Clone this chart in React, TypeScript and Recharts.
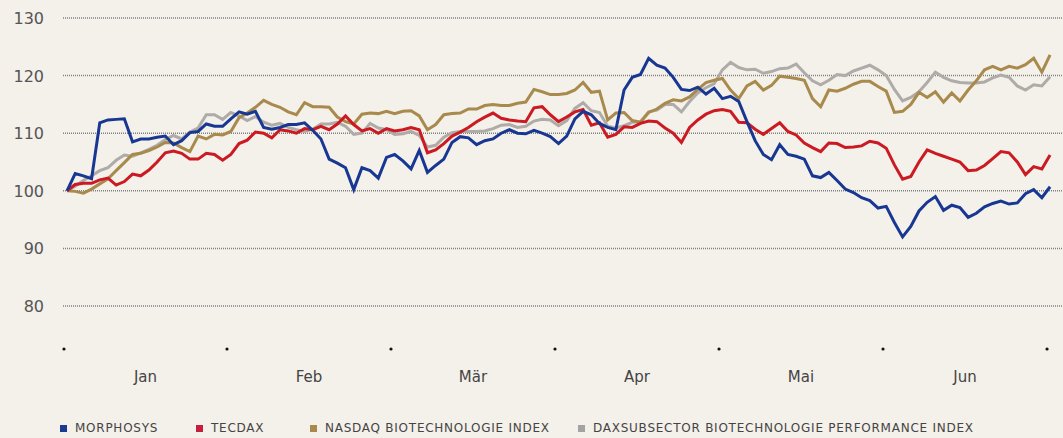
import { LineChart, Line, XAxis, YAxis, CartesianGrid } from "recharts";

const MORPHOSYS = [
  100, 103, 102.6, 102.1, 111.8, 112.3, 112.4, 112.5, 108.5, 109, 109, 109.3, 109.5, 108, 108.7, 110.1, 110.3, 111.6, 111.2, 111.2,
  112.5, 113.7, 113.3, 113.8, 111, 110.7, 111, 111.5, 111.5, 111.8, 110.5, 109, 105.5, 104.8, 104, 100.2, 104, 103.5, 102.2, 105.8,
  106.3, 105.2, 103.8, 107, 103.2, 104.4, 105.5, 108.4, 109.4, 109.2, 108, 108.7, 109, 110, 110.6, 110, 109.9, 110.5, 110, 109.4,
  108.2, 109.5, 112.5, 113.8, 113.2, 111.7, 111, 110.6, 117.5, 119.7, 120.2, 123, 121.8, 121.3, 119.7, 117.6, 117.4, 118, 116.8, 117.8,
  116, 116.4, 115.5, 112, 108.7, 106.3, 105.4, 108, 106.3, 106, 105.5, 102.6, 102.3, 103.2, 101.8, 100.3, 99.7, 98.8, 98.3, 97,
  97.3, 94.5, 92, 93.8, 96.5, 98, 99, 96.6, 97.5, 97.1, 95.4, 96.1, 97.2, 97.8, 98.2, 97.7, 97.9, 99.5, 100.2, 98.8,
  100.7,
];

const TECDAX = [
  100, 101.1, 101.3, 101.3, 101.9, 102.2, 101, 101.6, 102.9, 102.6, 103.6, 105, 106.6, 106.9, 106.5, 105.5, 105.5, 106.5, 106.3, 105.3,
  106.3, 108.2, 108.8, 110.2, 110, 109.2, 110.6, 110.4, 110, 110.8, 110.6, 111.2, 110.6, 111.6, 113, 111.5, 110.4, 110.8, 110, 110.8,
  110.4, 110.6, 111, 110.6, 106.6, 107.1, 108.2, 109.5, 110.2, 111, 112, 112.8, 113.5, 112.6, 112.3, 112.1, 112, 114.4, 114.6, 113.2,
  112, 112.8, 113.7, 114.1, 111.4, 111.8, 109.3, 109.8, 111.1, 111, 111.7, 112.1, 112, 110.9, 110, 108.4, 111, 112.3, 113.3, 113.9,
  114.1, 113.8, 111.9, 111.8, 110.7, 109.8, 110.8, 111.8, 110.3, 109.7, 108.3, 107.5, 106.8, 108.3, 108.2, 107.5, 107.6, 107.8, 108.6, 108.3,
  107.4, 104.5, 102, 102.5, 105, 107.1, 106.5, 106, 105.5, 105, 103.5, 103.6, 104.4, 105.6, 106.8, 106.6, 105, 102.8, 104.2, 103.8,
  106.2,
];

const NASDAQ_BIOTECH = [
  100, 99.9, 99.6, 100.3, 101.2, 102.1, 103.5, 104.9, 106.3, 106.5, 107, 107.6, 108.4, 108.3, 107.5, 106.8, 109.5, 109, 109.8, 109.7,
  110.3, 112.7, 113.5, 114.5, 115.7, 115, 114.5, 113.7, 113.2, 115.3, 114.6, 114.6, 114.5, 112.8, 112, 111.6, 113.3, 113.5, 113.4, 113.8,
  113.4, 113.8, 113.9, 113, 110.6, 111.5, 113.2, 113.4, 113.5, 114.2, 114.2, 114.8, 115, 114.8, 114.8, 115.2, 115.4, 117.6, 117.2, 116.7,
  116.7, 116.9, 117.5, 118.8, 117.1, 117.3, 112.3, 113.5, 113.6, 112.2, 111.9, 113.6, 114.2, 115.2, 115.8, 115.6, 116.3, 117.6, 118.8, 119.2,
  119.5, 117.5, 116, 118.2, 119, 117.5, 118.3, 119.9, 119.7, 119.5, 119.2, 116, 114.6, 117.5, 117.3, 117.8, 118.5, 119, 119, 118.1,
  117.3, 113.6, 113.8, 115, 117.1, 116.2, 117.2, 115.4, 117, 115.6, 117.5, 119.1, 121, 121.6, 121, 121.6, 121.3, 121.9, 123, 120.6,
  123.6,
];

const DAX_BIOTECH = [
  100, 100.8, 101.8, 102.6, 103.5, 104, 105.3, 106.2, 106, 106.6, 107.2, 107.9, 108.9, 109.6, 109, 110.2, 110.9, 113.2, 113.2, 112.4,
  113.6, 113, 112.2, 112.9, 111.9, 111.4, 111.7, 111, 110.6, 110.3, 110.7, 111.6, 111.6, 111.9, 111.2, 109.8, 110, 111.7, 110.9, 110.6,
  109.8, 109.9, 110.3, 109.6, 107.6, 107.9, 109.3, 110.1, 110.3, 110.3, 110.3, 110.4, 110.8, 111.4, 111.5, 111, 111.2, 112.1, 112.4, 112.3,
  111.3, 112.2, 114.3, 115.3, 113.9, 113.6, 111.2, 110.9, 111.3, 111.9, 112, 113.7, 114, 115, 115, 113.7, 115.5, 117, 117.9, 118.6,
  121, 122.3, 121.4, 121, 121.1, 120.4, 120.7, 121.2, 121.3, 122, 120.5, 119.1, 118.4, 119.2, 120.2, 120, 120.8, 121.3, 121.8, 121,
  120, 117.6, 115.6, 116.2, 117.2, 118.8, 120.6, 119.7, 119.1, 118.8, 118.7, 118.7, 118.9, 119.6, 120.1, 119.7, 118.2, 117.5, 118.4, 118.2,
  119.8,
];

const MONTHS = ["Jan", "Feb", "Mär", "Apr", "Mai", "Jun"];
// month boundaries in trading-day index units
const MONTH_BOUNDS = [-0.37, 19.53, 39.55, 59.57, 79.59, 99.61, 119.63];
const Y_TICKS = [80, 90, 100, 110, 120, 130];

const SERIES = [
  { key: "dax", name: "DAXSUBSECTOR BIOTECHNOLOGIE PERFORMANCE INDEX", color: "#aeaba8", legend: "#a3a3a3", values: DAX_BIOTECH },
  { key: "nasdaq", name: "NASDAQ BIOTECHNOLOGIE INDEX", color: "#a88a4c", legend: "#a88a4c", values: NASDAQ_BIOTECH },
  { key: "tecdax", name: "TECDAX", color: "#cc1a22", legend: "#c41f3c", values: TECDAX },
  { key: "morphosys", name: "MORPHOSYS", color: "#173792", legend: "#1b3a94", values: MORPHOSYS },
];

const data = MORPHOSYS.map((_, i) => {
  const row: Record<string, number> = { i };
  SERIES.forEach((s) => (row[s.key] = s.values[i]));
  return row;
});

const xTicks: number[] = [];
MONTH_BOUNDS.forEach((b, k) => {
  xTicks.push(b);
  if (k < MONTH_BOUNDS.length - 1) xTicks.push((b + MONTH_BOUNDS[k + 1]) / 2);
});

const FONT = "'DejaVu Sans', sans-serif";

function MonthTick(props: any) {
  const { x, index } = props;
  if (index % 2 === 0) return <circle cx={x} cy={349} r={1.6} fill="#111" />;
  return (
    <text x={x} y={382} textAnchor="middle" fontSize={15} fontFamily={FONT} fill="#444">
      {MONTHS[(index - 1) / 2]}
    </text>
  );
}

function ValueTick(props: any) {
  const { y, payload } = props;
  return (
    <text x={44} y={y + 6} textAnchor="end" fontSize={16} fontFamily={FONT} fill="#555">
      {payload.value}
    </text>
  );
}

const LEGEND_POS = [60, 196, 310, 578];
const LEGEND_ORDER = ["morphosys", "tecdax", "nasdaq", "dax"];

export default function App() {
  return (
    <div style={{ position: "fixed", left: 0, top: 0, width: 1063, height: 438, background: "#f4f0ea" }}>
      <LineChart width={1063} height={438} data={data} margin={{ top: 18, right: 0, left: 0, bottom: 0 }}>
        <CartesianGrid horizontal vertical={false} stroke="#808080" strokeDasharray="1 1" strokeWidth={1.5} />
        <XAxis
          type="number"
          dataKey="i"
          domain={[-0.488, 121.58]}
          ticks={xTicks}
          interval={0}
          axisLine={false}
          tickLine={false}
          height={132}
          tick={<MonthTick />}
        />
        <YAxis
          domain={[80, 130]}
          ticks={Y_TICKS}
          width={63}
          axisLine={false}
          tickLine={false}
          tick={<ValueTick />}
        />
        {SERIES.map((s) => (
          <Line
            key={s.key}
            dataKey={s.key}
            name={s.name}
            stroke={s.color}
            strokeWidth={3}
            dot={false}
            type="linear"
            isAnimationActive={false}
          />
        ))}
      </LineChart>
      <div style={{ position: "absolute", left: 0, top: 421, width: 1063, height: 16, fontFamily: FONT }}>
        {LEGEND_ORDER.map((k, n) => {
          const s = SERIES.find((x) => x.key === k)!;
          return (
            <div
              key={k}
              style={{ position: "absolute", left: LEGEND_POS[n], top: 0, display: "flex", alignItems: "center", whiteSpace: "nowrap" }}
            >
              <span style={{ width: 7, height: 7, background: s.legend, display: "inline-block", marginRight: 8 }} />
              <span style={{ fontSize: 12, color: "#444", letterSpacing: 0.75 }}>{s.name}</span>
            </div>
          );
        })}
      </div>
    </div>
  );
}
